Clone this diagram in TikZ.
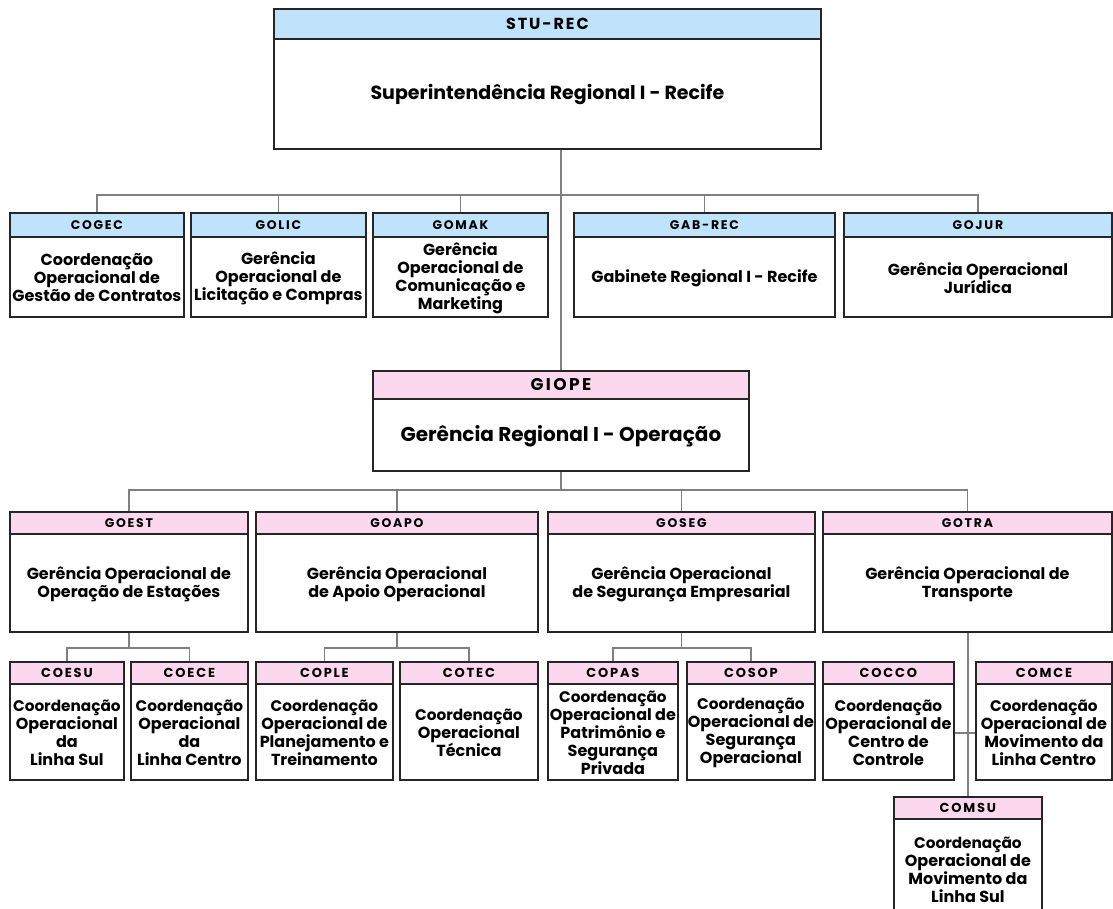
\documentclass[tikz,border=0pt]{standalone}
\usepackage{fontspec}
\setmainfont{Poppins}
\usetikzlibrary{calc}
\definecolor{hblue}{HTML}{BEE3FA}
\definecolor{hpink}{HTML}{FCD8EE}
\definecolor{lgray}{HTML}{808080}
\definecolor{bord}{HTML}{262626}
\newcommand\rowfour{\fontsize{15.3}{18}\selectfont}
\tikzset{
  box/.style={draw=bord, line width=1.8pt, fill=white, inner sep=0pt},
  hdr/.style={draw=bord, line width=1.8pt, inner sep=0pt,
    font=\bfseries\fontsize{12.5}{14}\selectfont\addfontfeatures{LetterSpace=14}},
  midhdr/.style={font=\bfseries\fontsize{13}{15}\selectfont\addfontfeatures{LetterSpace=14}},
  bighdr/.style={font=\bfseries\fontsize{16}{18}\selectfont\addfontfeatures{LetterSpace=12}},
  bodytext/.style={align=center, inner sep=0pt, font=\bfseries\fontsize{16}{18}\selectfont},
  link/.style={draw=lgray, line width=1.3pt},
}
% #1 id, #2 x1, #3 y1, #4 x2, #5 y2, #6 header height, #7 header options, #8 code, #9 body
\newcommand\orgbox[9]{%
  \node[box, minimum width=#4-#2, minimum height=#5-#3, anchor=north west] (#1) at (#2,#3) {};
  \node[hdr, #7, minimum width=#4-#2, minimum height=#6, anchor=north west] (#1-h) at (#2,#3) {#8};
  \node[bodytext] (#1-t) at ($(#1-h.south)!0.5!(#1.south)$) {#9};
}
\begin{document}
\begin{tikzpicture}[x=1pt,y=-1pt]
\useasboundingbox (0,0) rectangle (1113,908);
% top
\orgbox{stu}{273}{8}{820}{148}{30}{fill=hblue,bighdr}{STU-REC}{\fontsize{19}{23}\selectfont Superintendência Regional I - Recife}
% row 2
\orgbox{cogec}{9}{212}{183}{316}{24}{fill=hblue}{COGEC}{Coordenação\\Operacional de\\Gestão de Contratos}
\orgbox{golic}{190}{212}{365}{316}{24}{fill=hblue}{GOLIC}{Gerência\\Operacional de\\Licitação e Compras}
\orgbox{gomak}{372}{212}{547}{316}{24}{fill=hblue}{GOMAK}{Gerência\\Operacional de\\Comunicação e\\Marketing}
\orgbox{gab}{573}{212}{834}{316}{24}{fill=hblue}{GAB-REC}{Gabinete Regional I - Recife}
\orgbox{gojur}{843}{212}{1111}{316}{24}{fill=hblue}{GOJUR}{Gerência Operacional\\Jurídica}
% GIOPE
\orgbox{giope}{372}{370}{748}{470}{28}{fill=hpink,bighdr,font=\bfseries\fontsize{17}{19}\selectfont\addfontfeatures{LetterSpace=14}}{GIOPE}{\fontsize{20}{24}\selectfont Gerência Regional I - Operação}
% row 3
\orgbox{goest}{9}{511}{247}{631}{22}{fill=hpink}{GOEST}{Gerência Operacional de\\Operação de Estações}
\orgbox{goapo}{255}{511}{537}{631}{22}{fill=hpink}{GOAPO}{Gerência Operacional\\de Apoio Operacional}
\orgbox{goseg}{547}{511}{814}{631}{22}{fill=hpink}{GOSEG}{Gerência Operacional\\de Segurança Empresarial}
\orgbox{gotra}{822}{511}{1111}{631}{22}{fill=hpink}{GOTRA}{Gerência Operacional de\\Transporte}
% row 4
\orgbox{coesu}{9}{661}{123}{779}{22}{fill=hpink,midhdr}{COESU}{\rowfour Coordenação\\Operacional\\da\\Linha Sul}
\orgbox{coece}{130}{661}{247}{779}{22}{fill=hpink,midhdr}{COECE}{\rowfour Coordenação\\Operacional\\da\\Linha Centro}
\orgbox{cople}{255}{661}{392}{779}{22}{fill=hpink,midhdr}{COPLE}{\rowfour Coordenação\\Operacional de\\Planejamento e\\Treinamento}
\orgbox{cotec}{399}{661}{537}{779}{22}{fill=hpink,midhdr}{COTEC}{\rowfour Coordenação\\Operacional\\Técnica}
\orgbox{copas}{547}{661}{677}{779}{22}{fill=hpink,midhdr}{COPAS}{\rowfour Coordenação\\Operacional de\\Patrimônio e\\Segurança\\Privada}
\orgbox{cosop}{686}{661}{814}{779}{22}{fill=hpink,midhdr}{COSOP}{\rowfour Coordenação\\Operacional de\\Segurança\\Operacional}
\orgbox{cocco}{822}{661}{953}{779}{22}{fill=hpink,midhdr}{COCCO}{\rowfour Coordenação\\Operacional de\\Centro de\\Controle}
\orgbox{comce}{975}{661}{1111}{779}{22}{fill=hpink,midhdr}{COMCE}{\rowfour Coordenação\\Operacional de\\Movimento da\\Linha Centro}
\orgbox{comsu}{893}{796}{1041}{918}{22}{fill=hpink,midhdr}{COMSU}{\rowfour Coordenação\\Operacional de\\Movimento da\\Linha Sul}
% connectors
\coordinate (bus2) at (0,195);
\coordinate (bus3) at (0,490);
\coordinate (j) at (0,733);
\draw[link] (stu.south -| giope-h.north) -- (giope-h.north);
\draw[link] (cogec-h.north) -- (cogec-h.north |- bus2) -- (gojur-h.north |- bus2) -- (gojur-h.north);
\draw[link] (golic-h.north) -- (golic-h.north |- bus2);
\draw[link] (gomak-h.north) -- (gomak-h.north |- bus2);
\draw[link] (gab-h.north) -- (gab-h.north |- bus2);
\draw[link] (giope.south) -- (giope.south |- bus3);
\draw[link] (goest-h.north) -- (goest-h.north |- bus3) -- (gotra-h.north |- bus3) -- (gotra-h.north);
\draw[link] (goapo-h.north) -- (goapo-h.north |- bus3);
\draw[link] (goseg-h.north) -- (goseg-h.north |- bus3);
\coordinate (b4) at (0,648);
\draw[link] (goest.south) -- (goest.south |- b4);
\draw[link] (coesu-h.north) -- (coesu-h.north |- b4) -- (coece-h.north |- b4) -- (coece-h.north);
\draw[link] (goapo.south) -- (goapo.south |- b4);
\draw[link] (cople-h.north) -- (cople-h.north |- b4) -- (cotec-h.north |- b4) -- (cotec-h.north);
\draw[link] (goseg.south) -- (goseg.south |- b4);
\draw[link] (copas-h.north) -- (copas-h.north |- b4) -- (cosop-h.north |- b4) -- (cosop-h.north);
\draw[link] (gotra.south -| comsu-h.north) -- (comsu-h.north);
\draw[link] (cocco.east |- j) -- (comce.west |- j);
\end{tikzpicture}
\end{document}
